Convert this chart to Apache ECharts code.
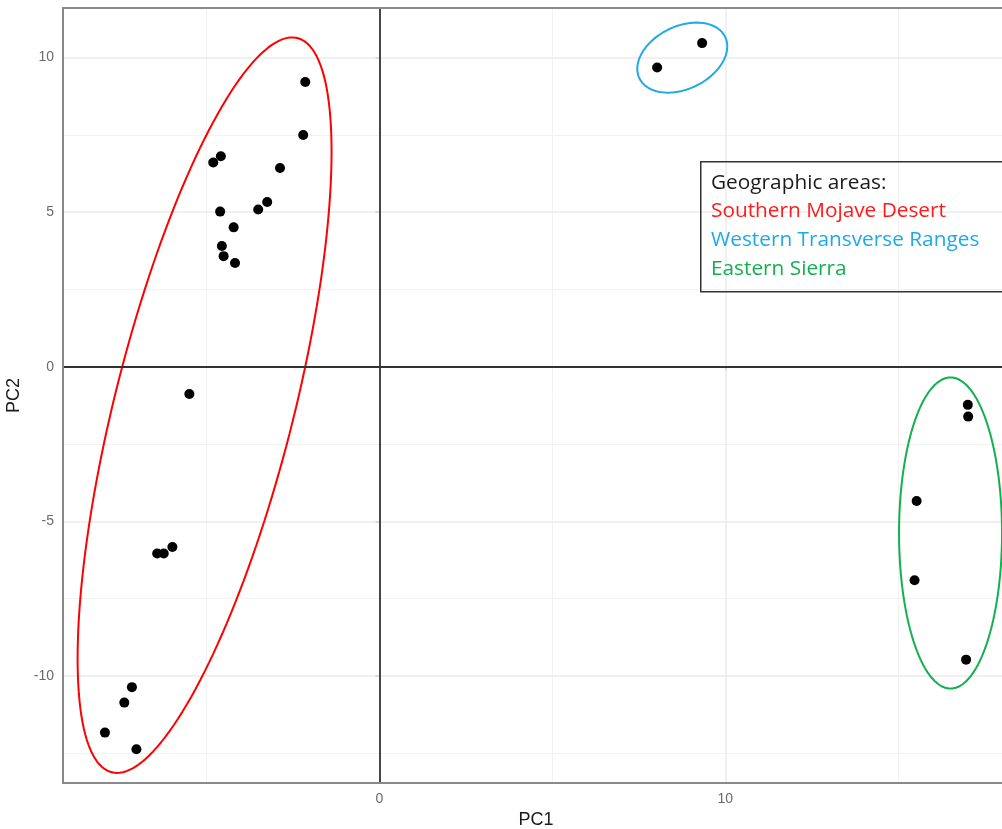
<!DOCTYPE html>
<html>
<head>
<meta charset="utf-8">
<script src="https://cdn.jsdelivr.net/npm/echarts@6/dist/echarts.min.js"></script>
<style>
html,body{margin:0;padding:0;background:#fff;}
#chart{width:1002px;height:829px;}
</style>
</head>
<body>
<div id="chart"></div>
<script>
// ---- data ----
const pc1 = [-2.14, -2.20, -4.80, -4.58, -2.87, -4.60, -3.50, -3.24, -4.21, -4.55, -4.50, -4.17, -5.49,
             -6.42, -6.23, -5.98, -7.15, -7.37, -7.93, -7.02,
             8.03, 9.33,
             17.01, 17.02, 15.53, 15.47, 16.96];
const pc2 = [9.21, 7.50, 6.61, 6.81, 6.43, 5.02, 5.09, 5.33, 4.51, 3.91, 3.58, 3.36, -0.88,
             -6.04, -6.04, -5.83, -10.36, -10.86, -11.83, -12.37,
             9.68, 10.47,
             -1.23, -1.61, -4.34, -6.90, -9.47];

const groupNames = ["Southern Mojave Desert", "Western Transverse Ranges", "Eastern Sierra"];
const groupColors = ["#FF0000", "#1EAAE6", "#14B050"];
const textColors = ["#FF1A1A", "#1EAAE6", "#14B050"];
const ellipseCenters = [[-5.05, -1.24], [8.757, 10.0], [16.51, -5.375]];
// shape matrices [sxx, sxy, syy]
const ellipseShapes = [[13.47, 30.08, 141.45], [1.691, 0.4714, 1.283], [2.215, 0, 25.32]];

const xTicks = [0, 10];
const xMinor = [-5, 5, 15];
const yTicks = [-10, -5, 0, 5, 10];
const yMinor = [-12.5, -7.5, -2.5, 2.5, 7.5];
const legendTitle = "Geographic areas:";

// ---- build ----
function ellipsePoints(c, s) {
  const a = Math.sqrt(s[0]);
  const b = s[1] / a;
  const d = Math.sqrt(s[2] - b * b);
  const pts = [];
  const n = 180;
  for (let i = 0; i <= n; i++) {
    const t = 2 * Math.PI * i / n;
    const u = Math.cos(t), v = Math.sin(t);
    pts.push([c[0] + a * u, c[1] + b * u + d * v]);
  }
  return pts;
}

const points = pc1.map((x, i) => [x, pc2[i]]);

const gridMark = (vals, axis, color, width) => vals.map(v => ({
  [axis]: v, lineStyle: {color: color, width: width, type: 'solid'}
}));

const series = [];
series.push({
  type: 'line', data: [], silent: true,
  markLine: {
    silent: true, symbol: ['none', 'none'], label: {show: false}, animation: false, z: 1,
    data: [].concat(
      gridMark(xMinor, 'xAxis', '#f2f2f2', 1),
      gridMark(yMinor, 'yAxis', '#f2f2f2', 1),
      gridMark(xTicks, 'xAxis', '#ebebeb', 1.5),
      gridMark(yTicks, 'yAxis', '#ebebeb', 1.5)
    )
  }
});
series.push({
  type: 'line', data: [], silent: true, z: 3,
  markLine: {
    silent: true, symbol: ['none', 'none'], label: {show: false}, animation: false,
    data: [{xAxis: 0, lineStyle: {color: '#333', width: 1.8, type: 'solid'}},
           {yAxis: 0, lineStyle: {color: '#333', width: 1.8, type: 'solid'}}]
  }
});
ellipseCenters.forEach((c, i) => {
  series.push({
    type: 'line', data: ellipsePoints(c, ellipseShapes[i]), showSymbol: false, silent: true,
    lineStyle: {color: groupColors[i], width: 2}, z: 4, animation: false
  });
});
series.push({
  type: 'scatter', data: points, symbolSize: 10, itemStyle: {color: '#000', opacity: 1}, z: 5, animation: false
});

const legendLines = [legendTitle].concat(groupNames);
const legendCols = ['#1a1a1a'].concat(textColors);
const legendYs = [183, 211, 240, 269];
const graphics = [{
  type: 'rect', left: 700, top: 161, shape: {width: 340, height: 130},
  style: {fill: 'rgba(0,0,0,0)', stroke: '#333', lineWidth: 1.5}, z: 10
}];
legendLines.forEach((t, i) => {
  graphics.push({
    type: 'text', x: 711, y: legendYs[i], z: 11,
    style: {text: t, fill: legendCols[i], font: '20.8px "Open Sans"', textVerticalAlign: 'middle'}
  });
});

const chart = echarts.init(document.getElementById('chart'), null, {renderer: 'canvas'});
chart.setOption({
  backgroundColor: '#fff',
  animation: false,
  grid: {left: 63, top: 8, width: 946, height: 775, containLabel: false, outerBoundsMode: 'none',
         show: true, borderColor: '#8a8a8a', borderWidth: 2, backgroundColor: 'transparent', z: 6},
  xAxis: {
    type: 'value', min: -9.142, max: 18.2,
    name: 'PC1', nameLocation: 'middle', nameGap: 28,
    nameTextStyle: {fontFamily: 'Liberation Sans', fontSize: 18, color: '#1a1a1a'},
    axisLine: {show: false},
    splitLine: {show: false},
    axisTick: {show: true, length: 4, lineStyle: {color: '#8a8a8a', width: 1.5}, customValues: xTicks},
    axisLabel: {customValues: xTicks, fontFamily: 'Liberation Sans', fontSize: 14, color: '#6a6a6a', margin: 9}
  },
  yAxis: {
    type: 'value', min: -13.46, max: 11.605,
    name: 'PC2', nameLocation: 'middle', nameGap: 35, nameRotate: 90,
    nameTextStyle: {fontFamily: 'Liberation Sans', fontSize: 18, color: '#1a1a1a'},
    axisLine: {show: false},
    splitLine: {show: false},
    axisTick: {show: true, length: 4, lineStyle: {color: '#8a8a8a', width: 1.5}, customValues: yTicks},
    axisLabel: {customValues: yTicks, fontFamily: 'Liberation Sans', fontSize: 14, color: '#6a6a6a', margin: 9}
  },
  graphic: graphics,
  series: series
});
</script>
</body>
</html>
